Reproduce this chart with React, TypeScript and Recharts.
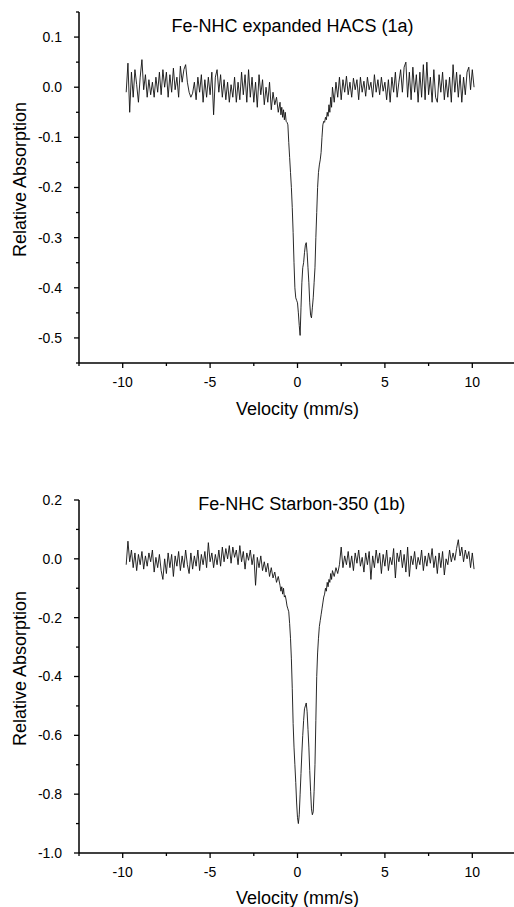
import { LineChart, Line, XAxis, YAxis, Label } from 'recharts';

// velocity channels (mm/s), shared by both spectra
const velocity = [
  -9.8, -9.7, -9.6, -9.5, -9.4, -9.3, -9.2, -9.1, -9.0, -8.9,
  -8.8, -8.7, -8.6, -8.5, -8.4, -8.3, -8.2, -8.1, -8.0, -7.9,
  -7.8, -7.7, -7.6, -7.5, -7.4, -7.3, -7.2, -7.1, -7.0, -6.9,
  -6.8, -6.7, -6.6, -6.5, -6.4, -6.3, -6.2, -6.1, -6.0, -5.9,
  -5.8, -5.7, -5.6, -5.5, -5.4, -5.3, -5.2, -5.1, -5.0, -4.9,
  -4.8, -4.7, -4.6, -4.5, -4.4, -4.3, -4.2, -4.1, -4.0, -3.9,
  -3.8, -3.7, -3.6, -3.5, -3.4, -3.3, -3.2, -3.1, -3.0, -2.9,
  -2.8, -2.7, -2.6, -2.5, -2.4, -2.3, -2.2, -2.1, -2.0, -1.9,
  -1.8, -1.7, -1.6, -1.5, -1.4, -1.3, -1.2, -1.1,
  -1.0, -0.95, -0.9, -0.85, -0.8, -0.75, -0.7, -0.65, -0.6, -0.55,
  -0.5, -0.45, -0.4, -0.35, -0.3, -0.25, -0.2, -0.15, -0.1, -0.05,
  0.0, 0.05, 0.1, 0.15, 0.2, 0.25, 0.3, 0.35, 0.4, 0.45,
  0.5, 0.55, 0.6, 0.65, 0.7, 0.75, 0.8, 0.85, 0.9, 0.95,
  1.0, 1.05, 1.1, 1.15, 1.2, 1.25, 1.3, 1.35, 1.4, 1.45,
  1.5, 1.55, 1.6, 1.65, 1.7, 1.75, 1.8, 1.85, 1.9, 1.95,
  2.0, 2.1, 2.2, 2.3, 2.4, 2.5, 2.6, 2.7, 2.8, 2.9,
  3.0, 3.1, 3.2, 3.3, 3.4, 3.5, 3.6, 3.7, 3.8, 3.9,
  4.0, 4.1, 4.2, 4.3, 4.4, 4.5, 4.6, 4.7, 4.8, 4.9,
  5.0, 5.1, 5.2, 5.3, 5.4, 5.5, 5.6, 5.7, 5.8, 5.9,
  6.0, 6.1, 6.2, 6.3, 6.4, 6.5, 6.6, 6.7, 6.8, 6.9,
  7.0, 7.1, 7.2, 7.3, 7.4, 7.5, 7.6, 7.7, 7.8, 7.9,
  8.0, 8.1, 8.2, 8.3, 8.4, 8.5, 8.6, 8.7, 8.8, 8.9,
  9.0, 9.1, 9.2, 9.3, 9.4, 9.5, 9.6, 9.7, 9.8, 9.9,
  10.0, 10.1,
];

// Fe-NHC expanded HACS (1a)
const hacsAbsorption = [
  -0.01, 0.048, -0.05, 0.03, -0.02, 0.035, 0.005, -0.03, 0.02, 0.055,
  -0.005, 0.025, -0.02, 0.015, -0.015, 0.01, -0.02, 0.02, -0.01, 0.03,
  -0.015, 0.035, 0.0, 0.03, -0.02, 0.025, -0.01, 0.038, -0.005, 0.02,
  -0.02, 0.042, 0.01, 0.035, 0.045, 0.01, -0.01, -0.02, -0.012, 0.01,
  -0.025, 0.02, -0.01, 0.025, -0.03, 0.015, -0.02, 0.02, -0.015, 0.03,
  -0.055, 0.02, 0.035, -0.01, 0.025, -0.02, 0.015, -0.025, 0.01, -0.03,
  0.005, -0.02, 0.02, -0.03, 0.01, -0.025, 0.03, -0.015, 0.025, -0.03,
  0.035, -0.02, 0.02, -0.03, 0.01, -0.04, 0.025, -0.015, 0.015, -0.035,
  0.0, -0.03, 0.01, -0.045, -0.01, -0.035, -0.02, -0.05,
  -0.03, -0.055, -0.04, -0.06, -0.045, -0.065, -0.05, -0.068, -0.07, -0.075,
  -0.11, -0.14, -0.17, -0.2, -0.24, -0.29, -0.35, -0.4, -0.42, -0.425,
  -0.43, -0.45, -0.475, -0.495, -0.44, -0.39, -0.36, -0.35, -0.33, -0.315,
  -0.31, -0.33, -0.36, -0.39, -0.43, -0.455, -0.46, -0.44, -0.42, -0.39,
  -0.36, -0.3, -0.25, -0.2, -0.17, -0.155, -0.145, -0.13, -0.1, -0.075,
  -0.068, -0.07, -0.06, -0.065, -0.05, -0.058, -0.035, -0.05, -0.02, -0.04,
  0.0, -0.03, 0.01, -0.02, 0.02, -0.025, 0.015, -0.01, 0.022, -0.015,
  0.01, -0.02, 0.018, -0.005, 0.015, -0.025, 0.02, -0.01, 0.012, -0.018,
  0.02, -0.005, 0.01, -0.02, 0.025, -0.01, 0.015, -0.015, 0.02, -0.008,
  0.01, -0.025, 0.015, -0.03, 0.02, -0.01, 0.03, -0.02, 0.01, 0.035,
  -0.01, 0.04, 0.05, -0.02, 0.03, -0.025, 0.04, -0.01, 0.025, -0.03,
  0.03, -0.02, 0.045, -0.025, 0.05, -0.015, 0.02, -0.03, 0.035, -0.02,
  -0.03, 0.025, -0.01, 0.03, -0.025, 0.015, -0.02, 0.02, -0.03, 0.045,
  -0.01, 0.03, -0.02, 0.025, -0.03, 0.02, -0.015, 0.03, 0.04, -0.005,
  0.035, 0.0,
];

// Fe-NHC Starbon-350 (1b)
const starbonAbsorption = [
  -0.02, 0.06, -0.01, 0.03, -0.03, 0.02, -0.04, 0.015, -0.02, 0.025,
  -0.035, 0.01, -0.025, 0.02, -0.01, 0.03, -0.045, 0.005, -0.03, 0.015,
  -0.04, -0.07, 0.0, -0.05, 0.02, -0.03, 0.015, -0.06, 0.01, -0.025,
  0.025, -0.04, 0.01, -0.03, 0.03, -0.02, -0.05, 0.02, -0.035, 0.01,
  -0.025, 0.03, -0.04, 0.015, -0.02, 0.025, -0.03, 0.055, -0.01, 0.02,
  -0.03, 0.015, -0.02, 0.03, -0.025, 0.04, -0.01, 0.035, 0.0, 0.045,
  -0.015, 0.04, 0.005, 0.03, -0.02, 0.045, -0.01, 0.025, -0.035, 0.02,
  -0.005, 0.03, -0.02, 0.015, -0.09, 0.005, -0.03, 0.01, -0.04, -0.01,
  -0.045, -0.015, -0.06, -0.03, -0.065, -0.045, -0.08, -0.06,
  -0.09, -0.11, -0.095, -0.12, -0.1, -0.13, -0.125, -0.14, -0.16, -0.17,
  -0.18, -0.22, -0.27, -0.34, -0.44, -0.56, -0.64, -0.7, -0.76, -0.83,
  -0.88, -0.9, -0.87, -0.8, -0.73, -0.66, -0.6, -0.55, -0.51, -0.5,
  -0.49, -0.52, -0.58, -0.64, -0.72, -0.79, -0.85, -0.87, -0.86, -0.79,
  -0.7, -0.55, -0.4, -0.32, -0.27, -0.23, -0.21, -0.19, -0.17, -0.15,
  -0.13, -0.12, -0.1, -0.11, -0.08, -0.095, -0.07, -0.08, -0.05, -0.07,
  -0.04, -0.06, -0.03, -0.05, -0.02, 0.04, -0.03, 0.01, -0.02, 0.025,
  -0.03, 0.01, -0.04, 0.02, -0.015, 0.03, -0.025, 0.005, -0.045, 0.02,
  -0.02, 0.025, -0.07, 0.01, -0.03, 0.03, -0.015, 0.02, -0.05, 0.015,
  -0.025, 0.03, -0.04, 0.005, -0.02, 0.035, -0.065, 0.02, -0.01, 0.03,
  -0.03, 0.015, -0.045, 0.04, -0.06, 0.01, -0.02, 0.025, -0.035, 0.005,
  -0.02, 0.03, -0.04, 0.01, -0.025, 0.02, -0.015, 0.035, -0.03, 0.01,
  -0.05, 0.02, -0.03, 0.025, -0.055, 0.0, -0.02, 0.03, -0.01, 0.02,
  -0.005, 0.035, 0.065, 0.01, 0.04, -0.01, 0.03, 0.0, 0.025, -0.03,
  0.02, -0.035,
];

const velocityTicks = [-12.5, -10, -7.5, -5, -2.5, 0, 2.5, 5, 7.5, 10, 12.5];
const hacsTicks = [-0.55, -0.5, -0.45, -0.4, -0.35, -0.3, -0.25, -0.2, -0.15, -0.1, -0.05, 0, 0.05, 0.1, 0.15];
const starbonTicks = [-1.0, -0.9, -0.8, -0.7, -0.6, -0.5, -0.4, -0.3, -0.2, -0.1, 0, 0.1, 0.2];

const FONT = '"Liberation Sans", Arial, sans-serif';

const hacsData = velocity.map((v, i) => ({ v, a: hacsAbsorption[i] }));
const starbonData = velocity.map((v, i) => ({ v, a: starbonAbsorption[i] }));

const XTick = ({ x, y, payload }: any) => {
  const v = payload.value;
  const major = Math.abs(v % 5) < 1e-6;
  return (
    <g>
      <line x1={x} x2={x} y1={y} y2={y + (major ? 5 : 3)} stroke="#000" strokeWidth={1.3} />
      {major && (
        <text x={x} y={y + 24} textAnchor="middle" fontSize={14} fontFamily={FONT} fill="#000">
          {v}
        </text>
      )}
    </g>
  );
};

const makeYTick = (isMajor: (v: number) => boolean) => ({ x, y, payload }: any) => {
  const v = payload.value;
  const major = isMajor(v);
  return (
    <g>
      <line x1={x - (major ? 5 : 3)} x2={x} y1={y} y2={y} stroke="#000" strokeWidth={1.3} />
      {major && (
        <text x={x - 17} y={y} dy="0.35em" textAnchor="end" fontSize={14} fontFamily={FONT} fill="#000">
          {v.toFixed(1)}
        </text>
      )}
    </g>
  );
};

const hacsMajor = (v: number) => Math.abs(Math.round(v * 10) - v * 10) < 1e-6;
const starbonMajor = (v: number) => Math.abs(Math.round(v * 10)) % 2 === 0;

const titleStyle = (left: number, top: number): React.CSSProperties => ({
  position: 'absolute',
  left,
  top,
  transform: 'translateX(-50%)',
  fontFamily: FONT,
  fontSize: 18,
  lineHeight: '18px',
  whiteSpace: 'nowrap',
  color: '#000',
});

const axisLabel = { fontSize: 18, fontFamily: FONT, fill: '#000' };

const Panel = ({ data, ticks, domain, isMajor, height, top }: any) => (
  <LineChart width={516} height={height} data={data} margin={{ top, right: 0, bottom: 0, left: 0 }}>
    <XAxis
      dataKey="v"
      type="number"
      domain={[-12.5, 12.5]}
      ticks={velocityTicks}
      interval={0}
      tickSize={0}
      tickMargin={0}
      tickLine={false}
      tick={<XTick />}
      height={height - top - (top === 12 ? 351 : 353)}
      axisLine={{ stroke: '#000', strokeWidth: 1.5 }}
    >
      <Label value="Velocity (mm/s)" position="insideBottom" offset={top === 12 ? 25 : 3} style={axisLabel} />
    </XAxis>
    <YAxis
      type="number"
      domain={domain}
      ticks={ticks}
      interval={0}
      width={79}
      tickSize={0}
      tickMargin={0}
      tickLine={false}
      tick={makeYTick(isMajor)}
      axisLine={{ stroke: '#000', strokeWidth: 1.5 }}
    >
      <Label
        value="Relative Absorption"
        angle={-90}
        position="insideLeft"
        offset={20}
        dy={-8}
        style={{ ...axisLabel, textAnchor: 'middle' }}
      />
    </YAxis>
    <Line dataKey="a" type="linear" stroke="#111" strokeWidth={0.9} dot={false} isAnimationActive={false} />
  </LineChart>
);

export default function App() {
  return (
    <div style={{ position: 'absolute', left: 0, top: 0, width: 514, height: 907, overflow: 'hidden', background: '#fff' }}>
      <div style={{ position: 'absolute', left: 0, top: 0 }}>
        <Panel data={hacsData} ticks={hacsTicks} domain={[-0.55, 0.15]} isMajor={hacsMajor} height={440} top={12} />
      </div>
      <div style={{ position: 'absolute', left: 0, top: 440 }}>
        <Panel data={starbonData} ticks={starbonTicks} domain={[-1.0, 0.2]} isMajor={starbonMajor} height={467} top={60} />
      </div>
      <div style={titleStyle(292.5, 16.5)}>Fe-NHC expanded HACS (1a)</div>
      <div style={titleStyle(301.7, 495)}>Fe-NHC Starbon-350 (1b)</div>
    </div>
  );
}
